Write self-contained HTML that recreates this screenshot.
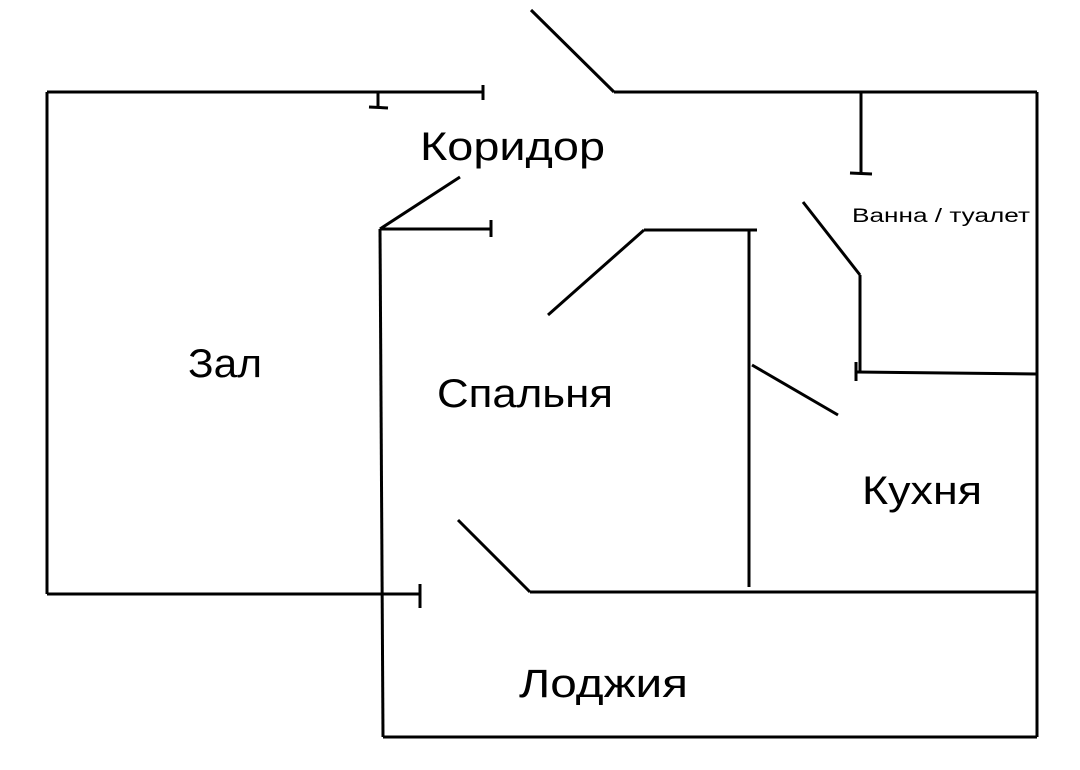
<!DOCTYPE html>
<html><head><meta charset="utf-8"><style>html,body{margin:0;padding:0;background:#fff;}svg{display:block}</style></head>
<body>
<svg width="1080" height="770" xmlns="http://www.w3.org/2000/svg">
<g stroke="#000" stroke-width="3" fill="none" stroke-linecap="butt">
<line x1="47" y1="92" x2="483" y2="92"/>
<line x1="483" y1="85" x2="483" y2="100"/>
<line x1="378" y1="92" x2="378" y2="107"/>
<line x1="369" y1="107" x2="388" y2="108"/>
<line x1="47" y1="92" x2="47" y2="594"/>
<line x1="47" y1="594" x2="420" y2="594"/>
<line x1="420" y1="584" x2="420" y2="608"/>
<line x1="531" y1="10" x2="614" y2="92"/>
<line x1="614" y1="92" x2="1037" y2="92"/>
<line x1="1037" y1="92" x2="1037" y2="737"/>
<line x1="861" y1="92" x2="861" y2="173"/>
<line x1="850" y1="173" x2="872" y2="174"/>
<line x1="803" y1="202" x2="860" y2="275"/>
<line x1="860" y1="275" x2="860" y2="372"/>
<line x1="856" y1="362" x2="856" y2="381"/>
<line x1="856" y1="372" x2="1037" y2="374"/>
<line x1="380" y1="229" x2="460" y2="177"/>
<line x1="380" y1="229" x2="491" y2="229"/>
<line x1="491" y1="220" x2="491" y2="237"/>
<line x1="380" y1="229" x2="383" y2="737"/>
<line x1="383" y1="737" x2="1037" y2="737"/>
<line x1="548" y1="315" x2="644" y2="230"/>
<line x1="644" y1="230" x2="757" y2="230"/>
<line x1="749" y1="230" x2="749" y2="587"/>
<line x1="752" y1="365" x2="838" y2="415"/>
<line x1="458" y1="520" x2="530" y2="592"/>
<line x1="530" y1="592" x2="1037" y2="592"/>
</g>
<g font-family="Liberation Sans, sans-serif" fill="#000">
<text x="420" y="160" font-size="40" textLength="185" lengthAdjust="spacingAndGlyphs">Коридор</text>
<text x="188" y="377" font-size="40" textLength="74" lengthAdjust="spacingAndGlyphs">Зал</text>
<text x="437" y="407" font-size="40" textLength="176" lengthAdjust="spacingAndGlyphs">Спальня</text>
<text x="862" y="504" font-size="40" textLength="120" lengthAdjust="spacingAndGlyphs">Кухня</text>
<text x="519" y="697" font-size="40" textLength="169" lengthAdjust="spacingAndGlyphs">Лоджия</text>
<text x="852" y="222" font-size="19" textLength="178" lengthAdjust="spacingAndGlyphs">Ванна / туалет</text>
</g>
</svg>
</body></html>
